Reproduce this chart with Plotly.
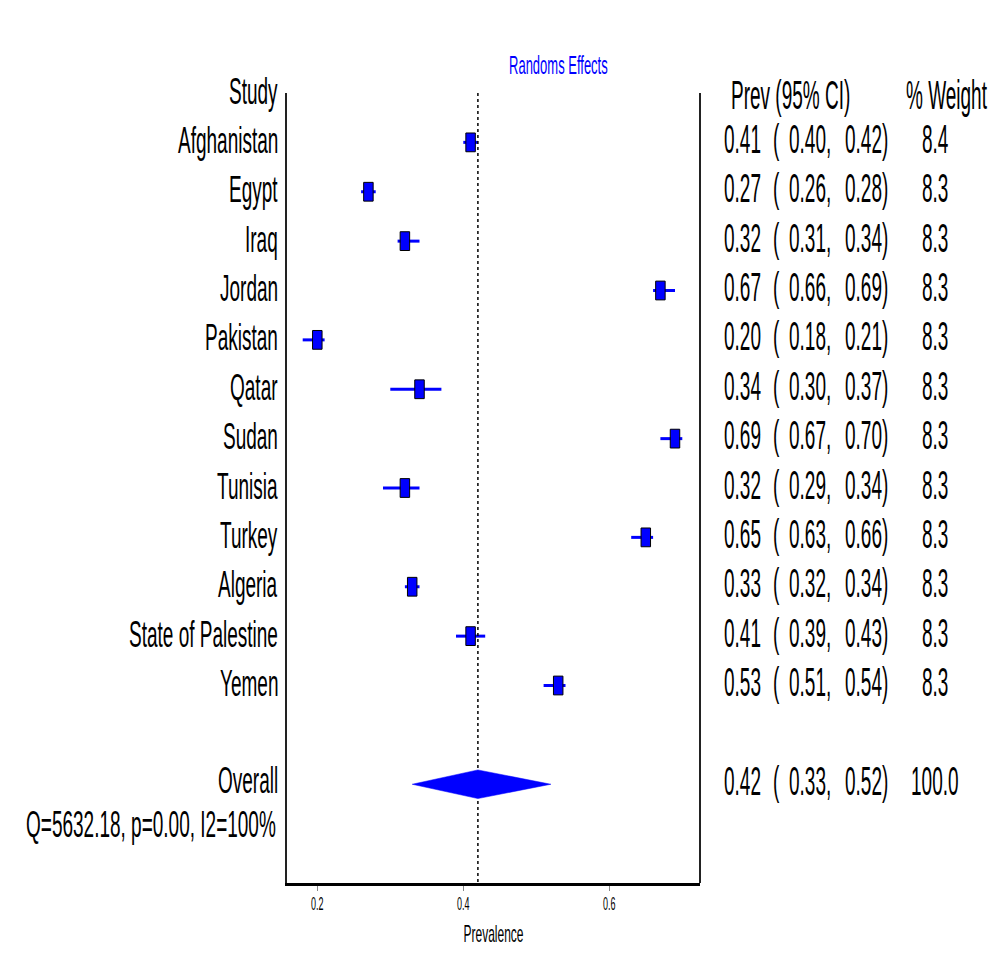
import plotly.graph_objects as go

# Study-level prevalence estimates (random-effects meta-analysis)
studies = ["Afghanistan", "Egypt", "Iraq", "Jordan", "Pakistan", "Qatar",
           "Sudan", "Tunisia", "Turkey", "Algeria", "State of Palestine", "Yemen"]
prev = [0.41, 0.27, 0.32, 0.67, 0.20, 0.34, 0.69, 0.32, 0.65, 0.33, 0.41, 0.53]
ci_low = [0.40, 0.26, 0.31, 0.66, 0.18, 0.30, 0.67, 0.29, 0.63, 0.32, 0.39, 0.51]
ci_high = [0.42, 0.28, 0.34, 0.69, 0.21, 0.37, 0.70, 0.34, 0.66, 0.34, 0.43, 0.54]
weights = [8.4, 8.3, 8.3, 8.3, 8.3, 8.3, 8.3, 8.3, 8.3, 8.3, 8.3, 8.3]

overall_prev = 0.42
overall_low = 0.33
overall_high = 0.52
overall_weight = 100.0
heterogeneity = "Q=5632.18, p=0.00, I2=100%"

tick_vals = [0.2, 0.4, 0.6]
tick_text = ["0.2", "0.4", "0.6"]

FONT = "Liberation Sans Narrow, Arial Narrow, Liberation Sans, Arial, sans-serif"
BLUE = "#0000FF"
W, H = 992, 977
L, R, T, B = 287, 700, 93, 883          # plot area edges in pixels
N_ROWS = 16                              # y axis runs over row slots 0..16
ROW_STUDY0 = 1
ROW_OVERALL = 14
ROW_Q = 14.85


def px_x(px):
    return (px - L) / (R - L)


def px_y(py):
    return (B - py) / (B - T)


rows = [ROW_STUDY0 + i for i in range(len(studies))]

fig = go.Figure()

# confidence interval whiskers
cx, cy = [], []
for r, lo, hi in zip(rows, ci_low, ci_high):
    cx += [lo, hi, None]
    cy += [r, r, None]
fig.add_trace(go.Scatter(x=cx, y=cy, mode="lines",
                         line=dict(color=BLUE, width=3), hoverinfo="skip"))

# pooled-estimate reference line
fig.add_trace(go.Scatter(x=[overall_prev, overall_prev], y=[0, N_ROWS], mode="lines",
                         line=dict(color="black", width=1.5, dash="dot"),
                         hoverinfo="skip"))

# pooled diamond
dh = 0.29
fig.add_trace(go.Scatter(
    x=[overall_low, overall_prev, overall_high, overall_prev, overall_low],
    y=[ROW_OVERALL, ROW_OVERALL - dh, ROW_OVERALL, ROW_OVERALL + dh, ROW_OVERALL],
    mode="lines", fill="toself", fillcolor=BLUE,
    line=dict(color=BLUE, width=0.5), hoverinfo="skip"))

# study boxes
bw, bh = 0.0065, 0.19
shapes = []
for r, p in zip(rows, prev):
    shapes.append(dict(type="rect", xref="x", yref="y",
                       x0=p - bw, x1=p + bw, y0=r - bh, y1=r + bh,
                       fillcolor=BLUE, line=dict(color="black", width=1)))
# right frame line
shapes.append(dict(type="line", xref="paper", yref="paper", x0=1, x1=1, y0=0, y1=1,
                   line=dict(color="#222", width=2)))

ann = []
txt = dict(family=FONT, size=19, color="black")


def label(text, xpx, row, anchor, shift=2):
    ann.append(dict(text=text, xref="paper", yref="y", x=px_x(xpx), y=row,
                    xanchor=anchor, yanchor="middle", yshift=shift,
                    showarrow=False, font=txt))


# left column
label("Study", 280, 0, "right")
for r, s in zip(rows, studies):
    label(s, 280, r, "right")
label("Overall", 280, ROW_OVERALL, "right", 4)
label(heterogeneity, 278, ROW_Q, "right")

# right columns
label("Prev (95% CI)", 729, 0.1, "left")
label("% Weight", 904, 0.1, "left")


def stat_row(r, p, lo, hi, w):
    label(f"{p:.2f}", 722, r, "left", 3)
    label("(", 771, r, "left", 3)
    label(f"{lo:.2f},", 787, r, "left", 3)
    label(f"{hi:.2f})", 843, r, "left", 3)
    label(f"{w:.1f}", 935, r, "center", 3)


for r, p, lo, hi, w in zip(rows, prev, ci_low, ci_high, weights):
    stat_row(r, p, lo, hi, w)
stat_row(ROW_OVERALL, overall_prev, overall_low, overall_high, overall_weight)

# title
ann.append(dict(text="Randoms Effects", xref="paper", yref="paper",
                x=px_x(558), y=px_y(65), xanchor="center", yanchor="middle",
                showarrow=False, font=dict(family=FONT, size=13, color=BLUE)))

fig.update_layout(
    width=W, height=H,
    margin=dict(l=L, r=W - R, t=T, b=H - B, pad=0),
    plot_bgcolor="white", paper_bgcolor="white",
    showlegend=False,
    shapes=shapes, annotations=ann,
    xaxis=dict(range=[0.2 - (317.3 - L) / 730, 0.6 + (R - 609.3) / 730],
               tickvals=tick_vals, ticktext=tick_text,
               ticks="outside", ticklen=5, tickcolor="#888", tickwidth=1,
               tickfont=dict(family=FONT, size=9, color="black"),
               ticklabelstandoff=5,
               showline=True, linecolor="black", linewidth=3,
               showgrid=False, zeroline=False,
               title=dict(text="Prevalence", standoff=23,
                          font=dict(family=FONT, size=12, color="black"))),
    yaxis=dict(range=[N_ROWS, 0], showticklabels=False, ticks="",
               showline=True, linecolor="#222", linewidth=2,
               showgrid=False, zeroline=False),
)

# stretch glyphs vertically around their own centre (tall, narrow lettering)
stretch_js = """
var gd = document.getElementById('{plot_id}');
var box = gd.getBoundingClientRect();
gd.querySelectorAll('svg.main-svg text').forEach(function(t){
  var r = t.getBoundingClientRect();
  var S = (r.left - box.left > 700) ? 2.1 : 1.95;
  var b = t.getBBox();
  var c = b.y + b.height / 2;
  var tr = t.getAttribute('transform') || '';
  t.setAttribute('transform', tr + ' translate(0,' + c + ') scale(1,' + S + ') translate(0,' + (-c) + ')');
});
"""

fig.write_html("out.html", config={"displayModeBar": False}, post_script=stretch_js)
